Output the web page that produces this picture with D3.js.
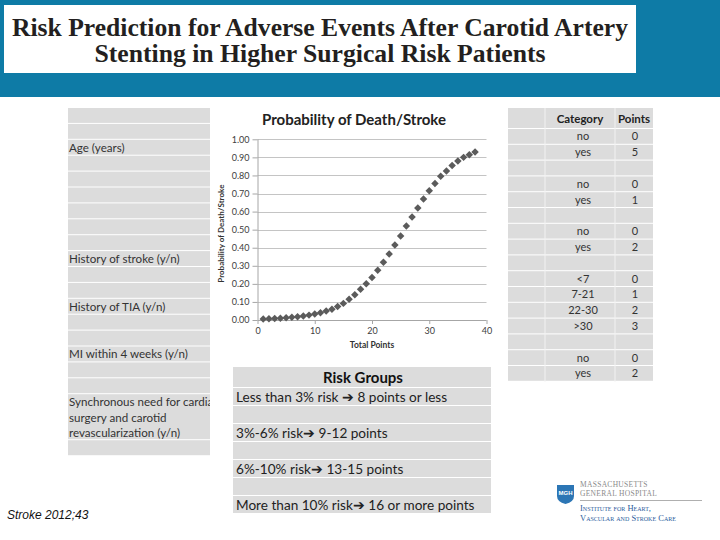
<!DOCTYPE html>
<html><head><meta charset="utf-8">
<script src="https://cdn.jsdelivr.net/npm/d3@7"></script>
<style>body{margin:0;background:#fff}svg{display:block}</style>
</head><body><svg id="c" width="720" height="540"></svg>
<script>
// ---------- data ----------
const titleLines = ["Risk Prediction for Adverse Events After Carotid Artery", "Stenting in Higher Surgical Risk Patients"];
const chartTitle = "Probability of Death/Stroke";
const xAxisLabel = "Total Points";
const yAxisLabel = "Probability of Death/Stroke";
const totalPoints = [1,2,3,4,5,6,7,8,9,10,11,12,13,14,15,16,17,18,19,20,21,22,23,24,25,26,27,28,29,30,31,32,33,34,35,36,37,38];
const probability = [0.005,0.007,0.008,0.010,0.012,0.015,0.018,0.022,0.027,0.033,0.040,0.050,0.060,0.075,0.092,0.115,0.140,0.170,0.200,0.235,0.275,0.320,0.365,0.415,0.465,0.520,0.570,0.620,0.670,0.715,0.755,0.795,0.825,0.855,0.880,0.900,0.915,0.930];
const xTicks = [0,10,20,30,40];
const yTicks = [0,0.1,0.2,0.3,0.4,0.5,0.6,0.7,0.8,0.9,1.0];
const factorLabels = ["Age (years)", "History of stroke (y/n)", "History of TIA (y/n)", "MI within 4 weeks (y/n)", ["Synchronous need for cardiac", "surgery and carotid", "revascularization (y/n)"]];
const tableHeader = ["Category", "Points"];
const categories = ["no","yes","","no","yes","","no","yes","","<7","7-21","22-30",">30","","no","yes"];
const points = ["0","5","","0","1","","0","2","","0","1","2","3","","0","2"];
const riskHeader = "Risk Groups";
const riskGroups = ["Less than 3% risk \u2794 8 points or less", "", "3%-6% risk\u2794 9-12 points", "", "6%-10% risk\u2794 13-15 points", "", "More than 10% risk\u2794 16 or more points"];
const citation = "Stroke 2012;43";
const logoTop = ["MASSACHUSETTS", "GENERAL HOSPITAL"];
const logoBottom = ["Institute for Heart,", "Vascular and Stroke Care"];

// ---------- drawing ----------
const svg = d3.select("#c");
const SANS = "Lato, 'Open Sans', sans-serif";
const GRAY = "#dcdcdc";

// header band
svg.append("rect").attr("x",0).attr("y",0).attr("width",720).attr("height",97).attr("fill","#0e7ba6");
svg.append("rect").attr("x",4).attr("y",5).attr("width",632).attr("height",68).attr("fill","#fff");
svg.selectAll("text.title").data(titleLines).join("text")
  .attr("x",320).attr("y",(d,i)=>36+i*26).attr("text-anchor","middle")
  .attr("font-family","'Liberation Serif', 'DejaVu Serif', serif").attr("font-weight","bold")
  .attr("font-size",25).attr("fill","#231f20")
  .attr("textLength",(d,i)=>i===0?616:451).attr("lengthAdjust","spacingAndGlyphs")
  .text(d=>d);

// ---------- left factor table ----------
const lt = {x:68, w:142, top:108, rh:15.9};
const leftRows = [];
for (let i=0;i<18;i++) leftRows.push({y:lt.top+i*lt.rh, h:lt.rh});
leftRows.push({y:lt.top+18*lt.rh, h:46});
leftRows.push({y:lt.top+18*lt.rh+46, h:16});
const gL = svg.append("g");
gL.append("clipPath").attr("id","clipL").append("rect").attr("x",lt.x).attr("y",lt.top).attr("width",lt.w).attr("height",360);
gL.selectAll("rect.row").data(leftRows).join("rect")
  .attr("x",lt.x).attr("y",d=>d.y).attr("width",lt.w).attr("height",d=>d.h-1).attr("fill",GRAY);
const factorRowIdx = [2,9,12,15,18];
factorLabels.forEach((lab,i)=>{
  const r = leftRows[factorRowIdx[i]];
  const lines = Array.isArray(lab)?lab:[lab];
  const t = gL.append("text").attr("clip-path","url(#clipL)")
    .attr("font-family",SANS).attr("font-size",11.6).attr("fill","#333");
  lines.forEach((ln,j)=>{
    t.append("tspan").attr("x",lt.x+1)
     .attr("y", lines.length===1 ? r.y+r.h/2+4 : r.y+12+j*15.5).text(ln);
  });
});

// ---------- right points table ----------
const rt = {x0:508, x1:545, x2:615, x3:653, top:108, hh:21, rh:15.8};
const gR = svg.append("g");
const rightRows = categories.map((c,i)=>({c, p:points[i], y:rt.top+rt.hh+i*rt.rh}));
gR.append("rect").attr("x",rt.x0).attr("y",rt.top).attr("width",rt.x3-rt.x0).attr("height",rt.hh-1).attr("fill",GRAY);
gR.selectAll("rect.row").data(rightRows).join("rect")
  .attr("x",rt.x0).attr("y",d=>d.y).attr("width",rt.x3-rt.x0).attr("height",rt.rh-1).attr("fill",GRAY);
[rt.x1, rt.x2].forEach(x=>gR.append("line").attr("x1",x).attr("x2",x).attr("y1",rt.top).attr("y2",rt.top+rt.hh+16*rt.rh).attr("stroke","#f2f2f2").attr("stroke-width",1));
gR.append("text").attr("x",(rt.x1+rt.x2)/2).attr("y",rt.top+14.5).attr("text-anchor","middle")
  .attr("font-family",SANS).attr("font-weight","bold").attr("font-size",11.5).attr("fill","#222").text(tableHeader[0]);
gR.append("text").attr("x",(rt.x2+rt.x3)/2).attr("y",rt.top+14.5).attr("text-anchor","middle")
  .attr("font-family",SANS).attr("font-weight","bold").attr("font-size",11.5).attr("fill","#222").text(tableHeader[1]);
gR.selectAll("text.cat").data(rightRows).join("text")
  .attr("x",(rt.x1+rt.x2)/2+3).attr("y",d=>d.y+rt.rh/2+3.5).attr("text-anchor","middle")
  .attr("font-family",SANS).attr("font-size",11).attr("fill","#333").text(d=>d.c);
gR.selectAll("text.pt").data(rightRows).join("text")
  .attr("x",(rt.x2+rt.x3)/2+1).attr("y",d=>d.y+rt.rh/2+3.5).attr("text-anchor","middle")
  .attr("font-family",SANS).attr("font-size",11).attr("fill","#333").text(d=>d.p);

// ---------- chart ----------
const x = d3.scaleLinear().domain([0,40]).range([257.5,486.5]);
const y = d3.scaleLinear().domain([0,1]).range([320,139.3]);
const gC = svg.append("g");
gC.append("text").attr("x",354).attr("y",125).attr("text-anchor","middle")
  .attr("font-family",SANS).attr("font-weight","bold").attr("font-size",15).attr("fill","#222").text(chartTitle);
gC.selectAll("line.grid").data(yTicks.slice(1)).join("line")
  .attr("x1",x(0)).attr("x2",x(40)).attr("y1",d=>Math.round(y(d))+0.5).attr("y2",d=>Math.round(y(d))+0.5)
  .attr("stroke","#c4c4c4").attr("stroke-width",1);
const yAxis = gC.append("g").attr("transform",`translate(${x(0)},0)`)
  .call(d3.axisLeft(y).tickValues(yTicks).tickFormat(d3.format(".2f")).tickSize(5).tickPadding(3));
const xAxis = gC.append("g").attr("transform",`translate(0,${y(0)})`)
  .call(d3.axisBottom(x).tickValues(xTicks).tickSize(4).tickPadding(4));
[yAxis,xAxis].forEach(a=>{
  a.selectAll("path,line").attr("stroke","#a6a6a6");
  a.selectAll("text").attr("font-family",SANS).attr("font-size",9).attr("fill","#404040");
});
xAxis.select(".domain").attr("d",`M${x(0)},0.5H${x(40)}`);
yAxis.select(".domain").attr("d",`M0.5,${y(1)}V${y(0)}`);
gC.append("text").attr("x",372).attr("y",348).attr("text-anchor","middle")
  .attr("font-family",SANS).attr("font-weight","bold").attr("font-size",8.5).attr("fill","#333").text(xAxisLabel);
gC.append("text").attr("transform",`translate(224,${(y(0)+y(1))/2+4}) rotate(-90)`).attr("text-anchor","middle")
  .attr("font-family",SANS).attr("font-weight","bold").attr("font-size",8).attr("fill","#333").text(yAxisLabel);
const sym = d3.symbol().type(d3.symbolSquare).size(28);
gC.selectAll("path.pt").data(totalPoints).join("path")
  .attr("transform",(d,i)=>`translate(${x(d)},${y(probability[i])}) rotate(45)`)
  .attr("d",sym).attr("fill","#5b5b5b");

// ---------- risk groups ----------
const rg = {x:233, w:258, top:367, hh:21, rh:18};
const gG = svg.append("g");
gG.append("rect").attr("x",rg.x).attr("y",rg.top).attr("width",rg.w).attr("height",rg.hh-1).attr("fill",GRAY);
gG.selectAll("rect.row").data(riskGroups).join("rect")
  .attr("x",rg.x).attr("y",(d,i)=>rg.top+rg.hh+i*rg.rh).attr("width",rg.w).attr("height",rg.rh-1).attr("fill",GRAY);
gG.append("text").attr("x",rg.x+rg.w/2+1).attr("y",rg.top+16).attr("text-anchor","middle")
  .attr("font-family",SANS).attr("font-weight","bold").attr("font-size",15).attr("fill","#111").text(riskHeader);
gG.selectAll("text.rg").data(riskGroups).join("text")
  .attr("x",rg.x+3).attr("y",(d,i)=>rg.top+rg.hh+i*rg.rh+13.5)
  .attr("font-family",SANS).attr("font-size",13.6).attr("fill","#222").text(d=>d);

// ---------- citation ----------
svg.append("text").attr("x",7).attr("y",519).attr("font-family","'Liberation Sans', Arial, sans-serif")
  .attr("font-style","italic").attr("font-size",12).attr("fill","#111").text(citation);

// ---------- logo ----------
const gLogo = svg.append("g");
gLogo.append("path").attr("d","M557,485 H574 V496 Q574,502 565.5,504 Q557,502 557,496 Z").attr("fill","#2c76b5");
gLogo.append("text").attr("x",565.5).attr("y",495).attr("text-anchor","middle").attr("font-family","'Liberation Sans', sans-serif")
  .attr("font-weight","bold").attr("font-size",6).attr("fill","#fff").text("MGH");
gLogo.selectAll("text.lt").data(logoTop).join("text")
  .attr("x",580).attr("y",(d,i)=>487+i*9).attr("font-family","'Liberation Serif', serif").attr("font-size",7.5)
  .attr("fill","#8a8a8a").attr("letter-spacing",0.3).text(d=>d);
gLogo.append("line").attr("x1",580).attr("x2",702).attr("y1",500.5).attr("y2",500.5).attr("stroke","#9a9a9a").attr("stroke-width",0.8);
gLogo.selectAll("text.lb").data(logoBottom).join("text")
  .attr("x",580).attr("y",(d,i)=>511+i*10).attr("font-family","'Liberation Serif', serif").attr("font-size",8.5)
  .attr("font-variant","small-caps").attr("fill","#2b5c9c").text(d=>d);
</script></body></html>
